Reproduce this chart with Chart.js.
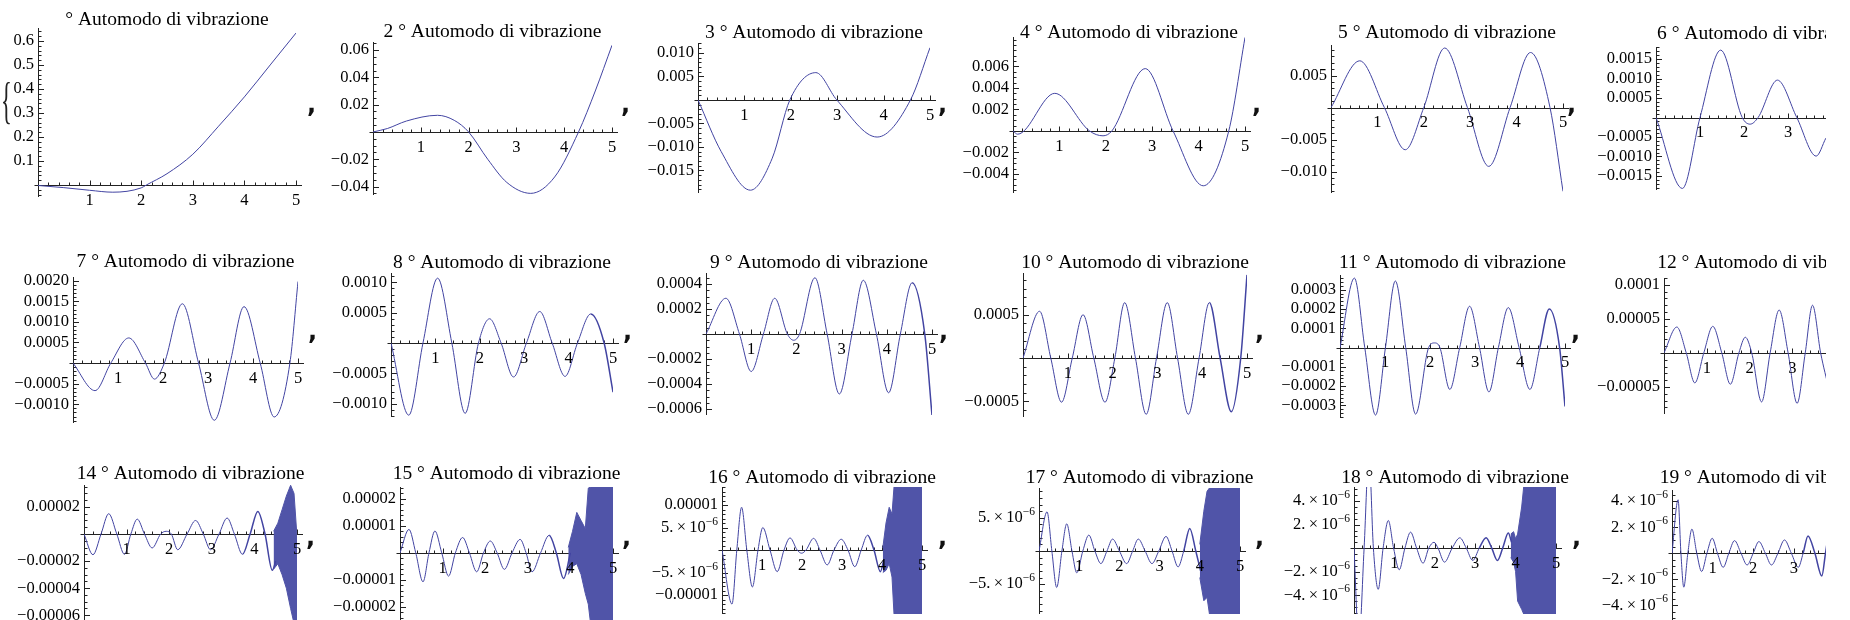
<!DOCTYPE html>
<html>
<head>
<meta charset="utf-8">
<script src="https://cdn.jsdelivr.net/npm/chart.js@4.4.1/dist/chart.umd.min.js"></script>
<style>
  html, body { margin: 0; padding: 0; background: #fff; width: 1850px; height: 620px; overflow: hidden; }
  #clip { position: absolute; left: 0; top: 0; width: 1826px; height: 620px; overflow: hidden; }
  canvas { position: absolute; }
  .sep { position: absolute; font: bold 24px "DejaVu Sans", sans-serif; line-height: 24px; color: #111; }
  .brace { position: absolute; font: 50px "Liberation Serif", serif; line-height: 50px; color: #222;
           transform: scaleX(0.45); transform-origin: left top; }
</style>
</head>
<body>
<div id="clip"></div>
<script>
// which eigenmodes appear in the picture (13 is not there)
const modes = [1, 2, 3, 4, 5, 6, 7, 8, 9, 10, 11, 12, 14, 15, 16, 17, 18, 19];
const xTicks = ['1', '2', '3', '4', '5'];

// mode shapes, points (x from 0 to 5)
const x1 = [0, 0.5, 1, 1.45, 2, 2.1, 2.5, 3, 3.5, 4, 4.5, 5];
const y1 = [-0.002, -0.011, -0.022, -0.03, -0.012, 0, 0.047, 0.128, 0.245, 0.367, 0.5, 0.633];
const x2 = [0, 0.3, 0.7, 1.35, 1.7, 2, 2.4, 2.8, 3.3, 3.8, 4.3, 4.65, 5];
const y2 = [0, 0.0025, 0.008, 0.0122, 0.0085, 0, -0.02, -0.037, -0.045, -0.033, 0, 0.03, 0.0635];
const x3 = [0, 0.5, 1.13, 1.6, 1.98, 2.54, 2.99, 3.86, 4.58, 5];
const y3 = [0, -0.011, -0.0192, -0.0124, 0, 0.0058, 0, -0.0079, 0, 0.0111];
const x4 = [0, 0.1, 0.9, 1.65, 1.94, 2.13, 2.85, 3.45, 4.1, 4.65, 5];
const y4 = [0, -0.0003, 0.0035, 0, -0.00045, 0, 0.0058, 0, -0.0051, 0, 0.0087];
const x5 = [0, 0.62, 1.15, 1.6, 2.0, 2.45, 2.94, 3.4, 3.86, 4.3, 4.72, 5];
const y5 = [0, 0.0073, 0, -0.0066, 0, 0.0093, 0, -0.0092, 0, 0.0086, 0, -0.0131];
const x6 = [0, 0.6, 1.0, 1.47, 1.96, 2.14, 2.32, 2.76, 3.2, 3.64, 3.86];
const y6 = [0, -0.00182, 0, 0.00173, 0, -0.00017, 0, 0.00096, 0, -0.00099, -0.00053];
const x7 = [0, 0.49, 0.84, 1.24, 1.61, 1.81, 2.03, 2.43, 2.79, 3.14, 3.49, 3.8, 4.16, 4.47, 4.82, 5];
const y7 = [0, -0.00067, 0, 0.00061, 0, -0.00039, 0, 0.00144, 0, -0.00139, 0, 0.00137, 0, -0.00131, 0, 0.00198];
const x8 = [0, 0.4, 0.72, 1.05, 1.37, 1.67, 1.97, 2.22, 2.48, 2.76, 3.05, 3.35, 3.63, 3.92, 4.2, 4.5, 4.8, 5];
const y8 = [0, -0.00119, 0, 0.00107, 0, -0.00116, 0, 0.0004, 0, -0.00056, 0, 0.00052, 0, -0.00055, 0, 0.00048, 0, -0.00081];
const x9 = [0, 0.44, 0.74, 1.0, 1.27, 1.52, 1.8, 1.94, 2.07, 2.41, 2.68, 2.95, 3.23, 3.48, 3.77, 4.04, 4.3, 4.56, 4.84, 5];
const y9 = [0, 0.000286, 0, -0.0003, 0, 0.000286, 0, -0.00005, 0, 0.00045, 0, -0.00048, 0, 0.00043, 0, -0.00047, 0, 0.00041, 0, -0.00065];
const x10 = [0, 0.37, 0.62, 0.86, 1.1, 1.34, 1.58, 1.83, 2.05, 2.27, 2.51, 2.75, 2.98, 3.22, 3.45, 3.69, 3.93, 4.16, 4.4, 4.65, 4.86, 5];
const y10 = [0, 0.00054, 0, -0.00051, 0, 0.0005, 0, -0.00051, 0, 0.00064, 0, -0.00065, 0, 0.00064, 0, -0.00065, 0, 0.00064, 0, -0.00062, 0, 0.00096];
const x11 = [0, 0.32, 0.55, 0.79, 1.01, 1.23, 1.46, 1.68, 1.97, 2.1, 2.22, 2.44, 2.66, 2.88, 3.1, 3.31, 3.52, 3.74, 3.98, 4.22, 4.44, 4.65, 4.88, 5];
const y11 = [0, 0.00036, 0, -0.00035, 0, 0.000345, 0, -0.000345, 0, 0.000024, 0, -0.000217, 0, 0.000214, 0, -0.00023, 0, 0.000207, 0, -0.000217, 0, 0.0002, 0, -0.000305];
const x12 = [0, 0.3, 0.52, 0.72, 0.93, 1.14, 1.35, 1.55, 1.75, 1.9, 2.05, 2.28, 2.48, 2.69, 2.9, 3.11, 3.3, 3.47, 3.66, 3.86];
const y12 = [0, 0.000038, 0, -0.000044, 0, 0.000039, 0, -0.000046, 0, 0.000023, 0, -0.000072, 0, 0.000063, 0, -0.000074, 0, 0.00007, 0, -0.000055];
const x14 = [0, 0.21, 0.4, 0.58, 0.77, 0.95, 1.1, 1.25, 1.42, 1.6, 1.8, 1.93, 2.05, 2.2, 2.42, 2.62, 2.8, 2.97, 3.17, 3.36, 3.53, 3.72, 3.9, 4.08, 4.25, 4.42, 4.5];
const y14 = [0, -0.0000153, 0, 0.000015, 0, -0.000015, 0, 0.000011, 0, -0.0000103, 0, 0.000002, 0, -0.0000116, 0, 0.00001, 0, -0.0000116, 0, 0.0000118, 0, -0.000015, 0, 0.0000167, 0, -0.0000268, -0.00002];
const x15 = [0, 0.21, 0.37, 0.54, 0.68, 0.82, 0.98, 1.14, 1.3, 1.47, 1.63, 1.8, 1.96, 2.12, 2.28, 2.45, 2.63, 2.82, 2.96, 3.1, 3.3, 3.5, 3.67, 3.84, 4.0];
const y15 = [0, 0.0000087, 0, -0.0000107, 0, 0.0000081, 0, -0.0000086, 0, 0.0000057, 0, -0.000007, 0, 0.0000044, 0, -0.0000061, 0, 0.000005, 0, -0.000007, 0, 0.0000065, 0, -0.0000095, 0];
const x16 = [0, 0.25, 0.37, 0.49, 0.62, 0.76, 0.9, 1.02, 1.2, 1.38, 1.55, 1.7, 1.88, 1.99, 2.1, 2.29, 2.45, 2.63, 2.8, 2.98, 3.15, 3.32, 3.48, 3.64, 3.8, 3.96, 4.05];
const y16 = [0, -0.000012, 0, 0.0000095, 0, -0.0000082, 0, 0.000005, 0, -0.0000048, 0, 0.0000027, 0, -0.0000007, 0, 0.0000026, 0, -0.0000033, 0, 0.0000024, 0, -0.0000037, 0, 0.0000033, 0, -0.0000048, -0.000002];
const x17 = [0, 0.2, 0.32, 0.44, 0.57, 0.69, 0.82, 0.94, 1.09, 1.24, 1.39, 1.54, 1.69, 1.83, 2.0, 2.18, 2.33, 2.47, 2.64, 2.81, 2.98, 3.16, 3.31, 3.46, 3.6, 3.75, 3.9, 4.02];
const y17 = [0, 0.0000059, 0, -0.0000055, 0, 0.0000041, 0, -0.0000033, 0, 0.0000024, 0, -0.0000019, 0, 0.0000018, 0, -0.0000019, 0, 0.0000018, 0, -0.0000019, 0, 0.0000022, 0, -0.0000024, 0, 0.0000034, 0, -0.000003];
const x18 = [0, 0.12, 0.25, 0.37, 0.48, 0.6, 0.72, 0.85, 0.98, 1.12, 1.26, 1.4, 1.55, 1.71, 1.85, 1.98, 2.08, 2.24, 2.43, 2.62, 2.78, 2.94, 3.1, 3.27, 3.41, 3.55, 3.68, 3.82, 3.9];
const y18 = [0, -0.000008, 0, 0.000008, 0, -0.0000035, 0, 0.00000235, 0, -0.00000184, 0, 0.00000136, 0, -0.00000128, 0, 0.0000005, 0, -0.00000119, 0, 0.00000088, 0, -0.00000105, 0, 0.00000088, 0, -0.00000105, 0, 0.00000128, 0.0000005];
const x19 = [0, 0.15, 0.22, 0.29, 0.39, 0.49, 0.61, 0.73, 0.86, 0.99, 1.12, 1.26, 1.4, 1.54, 1.7, 1.85, 2.0, 2.14, 2.3, 2.45, 2.61, 2.77, 2.94, 3.11, 3.23, 3.35, 3.52, 3.69, 3.78, 3.86];
const y19 = [0, 0.0000041, 0, -0.0000026, 0, 0.00000185, 0, -0.0000014, 0, 0.00000115, 0, -0.00000108, 0, 0.00000097, 0, -0.0000009, 0, 0.0000009, 0, -0.0000009, 0, 0.00000102, 0, -0.00000108, 0, 0.00000133, 0, -0.00000175, 0, 0.0000016];

// numerically noisy tail of the high modes: upper / lower envelope of the band
const bandX14 = [4.45, 4.55, 4.65, 4.75, 4.85, 4.93, 5.0];
const bandHi14 = [0.000002, 0.000008, 0.000018, 0.000028, 0.000036, 0.00003, -0.000002];
const bandLo14 = [-0.000026, -0.000022, -0.00003, -0.00004, -0.000055, -0.000066, -0.000066];
const bandX15 = [3.95, 4.05, 4.15, 4.25, 4.35, 4.42, 4.48, 5.0];
const bandHi15 = [0.000002, 0.000008, 0.000015, 0.000012, 0.000009, 0.000024, 0.0000244, 0.0000244];
const bandLo15 = [-0.000008, -0.000005, -0.000004, -0.000008, -0.000015, -0.000019, -0.000027, -0.000027];
const bandX16 = [4.02, 4.1, 4.18, 4.25, 4.3, 5.0];
const bandHi16 = [0.0000005, 0.000006, 0.0000095, 0.000008, 0.000014, 0.000014];
const bandLo16 = [-0.000005, -0.0000045, -0.000003, -0.000006, -0.0000142, -0.0000142];
const bandX17 = [4.0, 4.1, 4.18, 4.24, 5.0];
const bandHi17 = [0.000001, 0.000006, 0.000009, 0.0000095, 0.0000095];
const bandLo17 = [-0.000004, -0.0000075, -0.000007, -0.0000095, -0.0000095];
const bandX18 = [3.88, 3.95, 4.0, 4.05, 4.15, 4.2, 5.0];
const bandHi18 = [0.0000012, 0.0000014, 0.0000008, 0.0000012, 0.0000035, 0.0000052, 0.0000052];
const bandLo18 = [-0.0000008, -0.0000012, -0.000002, -0.0000045, -0.0000052, -0.0000056, -0.0000056];

// plot ranges [min, max]
const range1 = [-0.05, 0.654];
const range2 = [-0.0462, 0.0659];
const range3 = [-0.0198, 0.0121];
const range4 = [-0.00577, 0.00874];
const range5 = [-0.01336, 0.00977];
const range6 = [-0.00186, 0.00181];
const range7 = [-0.001456, 0.00209];
const range8 = [-0.00122, 0.001155];
const range9 = [-0.000648, 0.000488];
const range10 = [-0.000681, 0.000982];
const range11 = [-0.000365, 0.000376];
const range12 = [-0.0000897, 0.00011];
const range14 = [-0.0000672, 0.0000362];
const range15 = [-0.0000267, 0.0000244];
const range16 = [-0.0000142, 0.000014];
const range17 = [-0.0000095, 0.0000095];
const range18 = [-0.0000056, 0.0000052];
const range19 = [-0.0000055, 0.00000485];

// y tick labels and minor tick step
const ticks1 = ['0.1', '0.2', '0.3', '0.4', '0.5', '0.6'];
const ticks2 = ['0.06', '0.04', '0.02', '-0.02', '-0.04'];
const ticks3 = ['0.010', '0.005', '-0.005', '-0.010', '-0.015'];
const ticks4 = ['0.006', '0.004', '0.002', '-0.002', '-0.004'];
const ticks5 = ['0.005', '-0.005', '-0.010'];
const ticks6 = ['0.0015', '0.0010', '0.0005', '-0.0005', '-0.0010', '-0.0015'];
const ticks7 = ['0.0020', '0.0015', '0.0010', '0.0005', '-0.0005', '-0.0010'];
const ticks8 = ['0.0010', '0.0005', '-0.0005', '-0.0010'];
const ticks9 = ['0.0004', '0.0002', '-0.0002', '-0.0004', '-0.0006'];
const ticks10 = ['0.0005', '-0.0005'];
const ticks11 = ['0.0003', '0.0002', '0.0001', '-0.0001', '-0.0002', '-0.0003'];
const ticks12 = ['0.0001', '0.00005', '-0.00005'];
const ticks14 = ['0.00002', '-0.00002', '-0.00004', '-0.00006'];
const ticks15 = ['0.00002', '0.00001', '-0.00001', '-0.00002'];
const ticks16 = ['0.00001', '5.×10^-6', '-5.×10^-6', '-0.00001'];
const ticks17 = ['5.×10^-6', '-5.×10^-6'];
const ticks18 = ['4.×10^-6', '2.×10^-6', '-2.×10^-6', '-4.×10^-6'];
const ticks19 = ['4.×10^-6', '2.×10^-6', '-2.×10^-6', '-4.×10^-6'];
const minors = [0.02, 0.005, 0.001, 0.0005, 0.001, 0.0001, 0.0001, 0.0001, 0.00005, 0.0001, 0.00002, 0.00001,
                0.000005, 0.000002, 0.000001, 0.000001, 0.0000005, 0.0000005];

const curves = {1: [x1, y1], 2: [x2, y2], 3: [x3, y3], 4: [x4, y4], 5: [x5, y5], 6: [x6, y6],
  7: [x7, y7], 8: [x8, y8], 9: [x9, y9], 10: [x10, y10], 11: [x11, y11], 12: [x12, y12],
  14: [x14, y14], 15: [x15, y15], 16: [x16, y16], 17: [x17, y17], 18: [x18, y18], 19: [x19, y19]};
const bands = {14: [bandX14, bandHi14, bandLo14], 15: [bandX15, bandHi15, bandLo15],
  16: [bandX16, bandHi16, bandLo16], 17: [bandX17, bandHi17, bandLo17], 18: [bandX18, bandHi18, bandLo18]};
const ranges = {1: range1, 2: range2, 3: range3, 4: range4, 5: range5, 6: range6, 7: range7, 8: range8,
  9: range9, 10: range10, 11: range11, 12: range12, 14: range14, 15: range15, 16: range16,
  17: range17, 18: range18, 19: range19};
const yTicks = {1: ticks1, 2: ticks2, 3: ticks3, 4: ticks4, 5: ticks5, 6: ticks6, 7: ticks7, 8: ticks8,
  9: ticks9, 10: ticks10, 11: ticks11, 12: ticks12, 14: ticks14, 15: ticks15, 16: ticks16,
  17: ticks17, 18: ticks18, 19: ticks19};

// page layout: plot box (x=0..5, ymax..ymin) in px, title centre y, where the line thickens
const frames = {
  1: {l: 38, r: 296, t: 28, b: 197, ty: 20, thick: 99},
  2: {l: 373, r: 612, t: 42, b: 195, ty: 32, thick: 99},
  3: {l: 698, r: 930, t: 43, b: 193, ty: 33, thick: 99},
  4: {l: 1013, r: 1245, t: 37, b: 193, ty: 33, thick: 99},
  5: {l: 1331, r: 1563, t: 45, b: 193, ty: 33, thick: 99},
  6: {l: 1656, r: 1876, t: 47, b: 190, ty: 34, thick: 99},
  7: {l: 73, r: 298, t: 277, b: 423, ty: 262, thick: 99},
  8: {l: 391, r: 613, t: 273, b: 417, ty: 263, thick: 4.3},
  9: {l: 706, r: 932, t: 273, b: 415, ty: 263, thick: 4.4},
  10: {l: 1023, r: 1247, t: 273, b: 417, ty: 263, thick: 4.0},
  11: {l: 1340, r: 1565, t: 275, b: 418, ty: 263, thick: 4.4},
  12: {l: 1664, r: 1878, t: 278, b: 414, ty: 263, thick: 99},
  14: {l: 84, r: 297, t: 485, b: 625, ty: 474, thick: 3.6},
  15: {l: 400, r: 613, t: 487, b: 625, ty: 474, thick: 3.4},
  16: {l: 722, r: 922, t: 487, b: 614, ty: 478, thick: 3.5},
  17: {l: 1039, r: 1240, t: 488, b: 614, ty: 478, thick: 3.5},
  18: {l: 1354, r: 1556, t: 487, b: 614, ty: 478, thick: 3.1},
  19: {l: 1672, r: 1875, t: 490, b: 625, ty: 478, thick: 3.2}
};
const commaSpots = [[311, 112], [625, 112], [942, 112], [1256, 112], [1571, 112],
  [312, 339], [627, 339], [943, 339], [1259, 339], [1575, 339],
  [310, 545], [626, 545], [942, 545], [1259, 545], [1576, 545]];

const BLUE = 'rgb(66,68,162)';
const BAND = 'rgb(80,84,168)';
const INK = '#222';
const SERIF = '"Liberation Serif", "Times New Roman", serif';
const PAD_L = 90, PAD_R = 24, PAD_B = 32;

function tickValue(s) {
  if (s.includes('×10^')) {
    const [m, e] = s.split('×10^');
    return parseFloat(m) * Math.pow(10, parseInt(e, 10));
  }
  return parseFloat(s);
}

function drawYLabel(ctx, s, xr, ym) {
  const body = s[0] === '-' ? '\u2212' + s.slice(1) : s;
  ctx.textBaseline = 'middle';
  if (body.includes('^')) {
    const [base, exp] = body.split('^');
    const b = base.replace('×', '\u2009×\u2009');
    const sup = exp.replace('-', '\u2212');
    ctx.font = '11.5px ' + SERIF;
    const ws = ctx.measureText(sup).width;
    ctx.font = '16.5px ' + SERIF;
    const wb = ctx.measureText(b).width;
    ctx.textAlign = 'left';
    ctx.fillText(b, xr - wb - ws, ym);
    ctx.font = '11.5px ' + SERIF;
    ctx.fillText(sup, xr - ws, ym - 6);
  } else {
    ctx.font = '16.5px ' + SERIF;
    ctx.textAlign = 'right';
    ctx.fillText(body, xr, ym);
  }
}

const snap = v => Math.round(v) + 0.5;

function mmaAxes(n, f, minor) {
  const labels = yTicks[n];
  const majors = labels.map(tickValue);
  const title = (n === 1 ? '' : n + ' ') + '° Automodo di vibrazione';
  return {
    id: 'mmaAxes',
    beforeDatasetsDraw(chart) {
      const {ctx, scales: {x, y}} = chart;
      const x0 = snap(x.getPixelForValue(0)), y0 = snap(y.getPixelForValue(0));
      ctx.save();
      ctx.strokeStyle = INK;
      ctx.lineWidth = 1;
      ctx.beginPath();
      ctx.moveTo(x0 - 4, y0);
      ctx.lineTo(x.getPixelForValue(5) + 6, y0);
      ctx.moveTo(x0, y.getPixelForValue(y.max));
      ctx.lineTo(x0, y.getPixelForValue(y.min));
      for (let k = 1; k <= 25; k++) {
        const px = snap(x.getPixelForValue(k / 5));
        ctx.moveTo(px, y0);
        ctx.lineTo(px, y0 - (k % 5 === 0 ? 5 : 3));
      }
      const k0 = Math.ceil(y.min / minor - 1e-6), k1 = Math.floor(y.max / minor + 1e-6);
      for (let k = k0; k <= k1; k++) {
        if (k === 0) continue;
        const v = k * minor;
        const major = majors.some(m => Math.abs(m - v) < minor / 10);
        const py = snap(y.getPixelForValue(v));
        ctx.moveTo(x0, py);
        ctx.lineTo(x0 + (major ? 5.5 : 3), py);
      }
      ctx.stroke();
      ctx.restore();
    },
    afterDraw(chart) {
      const {ctx, scales: {x, y}, chartArea} = chart;
      const x0 = x.getPixelForValue(0), y0 = y.getPixelForValue(0);
      ctx.save();
      ctx.fillStyle = '#000';
      ctx.font = '16.5px ' + SERIF;
      ctx.textAlign = 'center';
      ctx.textBaseline = 'middle';
      xTicks.forEach(t => ctx.fillText(t, x.getPixelForValue(parseFloat(t)), y0 + 15.5));
      labels.forEach((s, i) => drawYLabel(ctx, s, x0 - 4, y.getPixelForValue(majors[i])));
      ctx.font = '19.5px ' + SERIF;
      ctx.textAlign = 'center';
      ctx.textBaseline = 'middle';
      ctx.fillText(title, (chartArea.left + chartArea.right) / 2, chartArea.top - (f.t - f.ty));
      ctx.restore();
    }
  };
}

const clip = document.getElementById('clip');

modes.forEach((n, idx) => {
  const f = frames[n];
  const left = f.l - PAD_L, top = Math.round(f.ty - 14);
  const w = f.r - f.l + PAD_L + PAD_R, h = f.b - top + PAD_B;
  const cv = document.createElement('canvas');
  cv.width = w; cv.height = h;
  cv.style.left = left + 'px'; cv.style.top = top + 'px';
  cv.style.width = w + 'px'; cv.style.height = h + 'px';
  clip.appendChild(cv);

  const [xs, ys] = curves[n];
  const datasets = [{
    data: xs.map((x, i) => ({x, y: ys[i]})),
    borderColor: BLUE,
    borderWidth: 1,
    pointRadius: 0,
    fill: false,
    cubicInterpolationMode: 'monotone',
    segment: { borderWidth: c => (c.p0.parsed.x >= f.thick ? 1.5 : undefined) }
  }];
  if (bands[n]) {
    const [bx, hi, lo] = bands[n];
    datasets.push({ data: bx.map((x, i) => ({x, y: hi[i]})), borderColor: BAND, backgroundColor: BAND,
                    borderWidth: 1, pointRadius: 0, fill: '+1' });
    datasets.push({ data: bx.map((x, i) => ({x, y: lo[i]})), borderColor: BAND,
                    borderWidth: 1, pointRadius: 0, fill: false });
  }

  new Chart(cv, {
    type: 'line',
    data: { datasets },
    options: {
      responsive: false,
      animation: false,
      events: [],
      layout: { autoPadding: false, padding: { left: PAD_L, right: PAD_R, top: f.t - top, bottom: PAD_B } },
      scales: {
        x: { type: 'linear', min: 0, max: 5, display: false },
        y: { type: 'linear', min: ranges[n][0], max: ranges[n][1], display: false }
      },
      plugins: { legend: { display: false }, tooltip: { enabled: false } }
    },
    plugins: [mmaAxes(n, f, minors[idx])]
  });
});

// list punctuation of the original notebook output
commaSpots.forEach(([cx, cy]) => {
  const d = document.createElement('div');
  d.className = 'sep';
  d.textContent = ',';
  d.style.left = (cx - 4) + 'px';
  d.style.top = (cy - 20) + 'px';
  clip.appendChild(d);
});
const brace = document.createElement('div');
brace.className = 'brace';
brace.textContent = '{';
brace.style.left = '1px';
brace.style.top = '75px';
clip.appendChild(brace);
</script>
</body>
</html>
